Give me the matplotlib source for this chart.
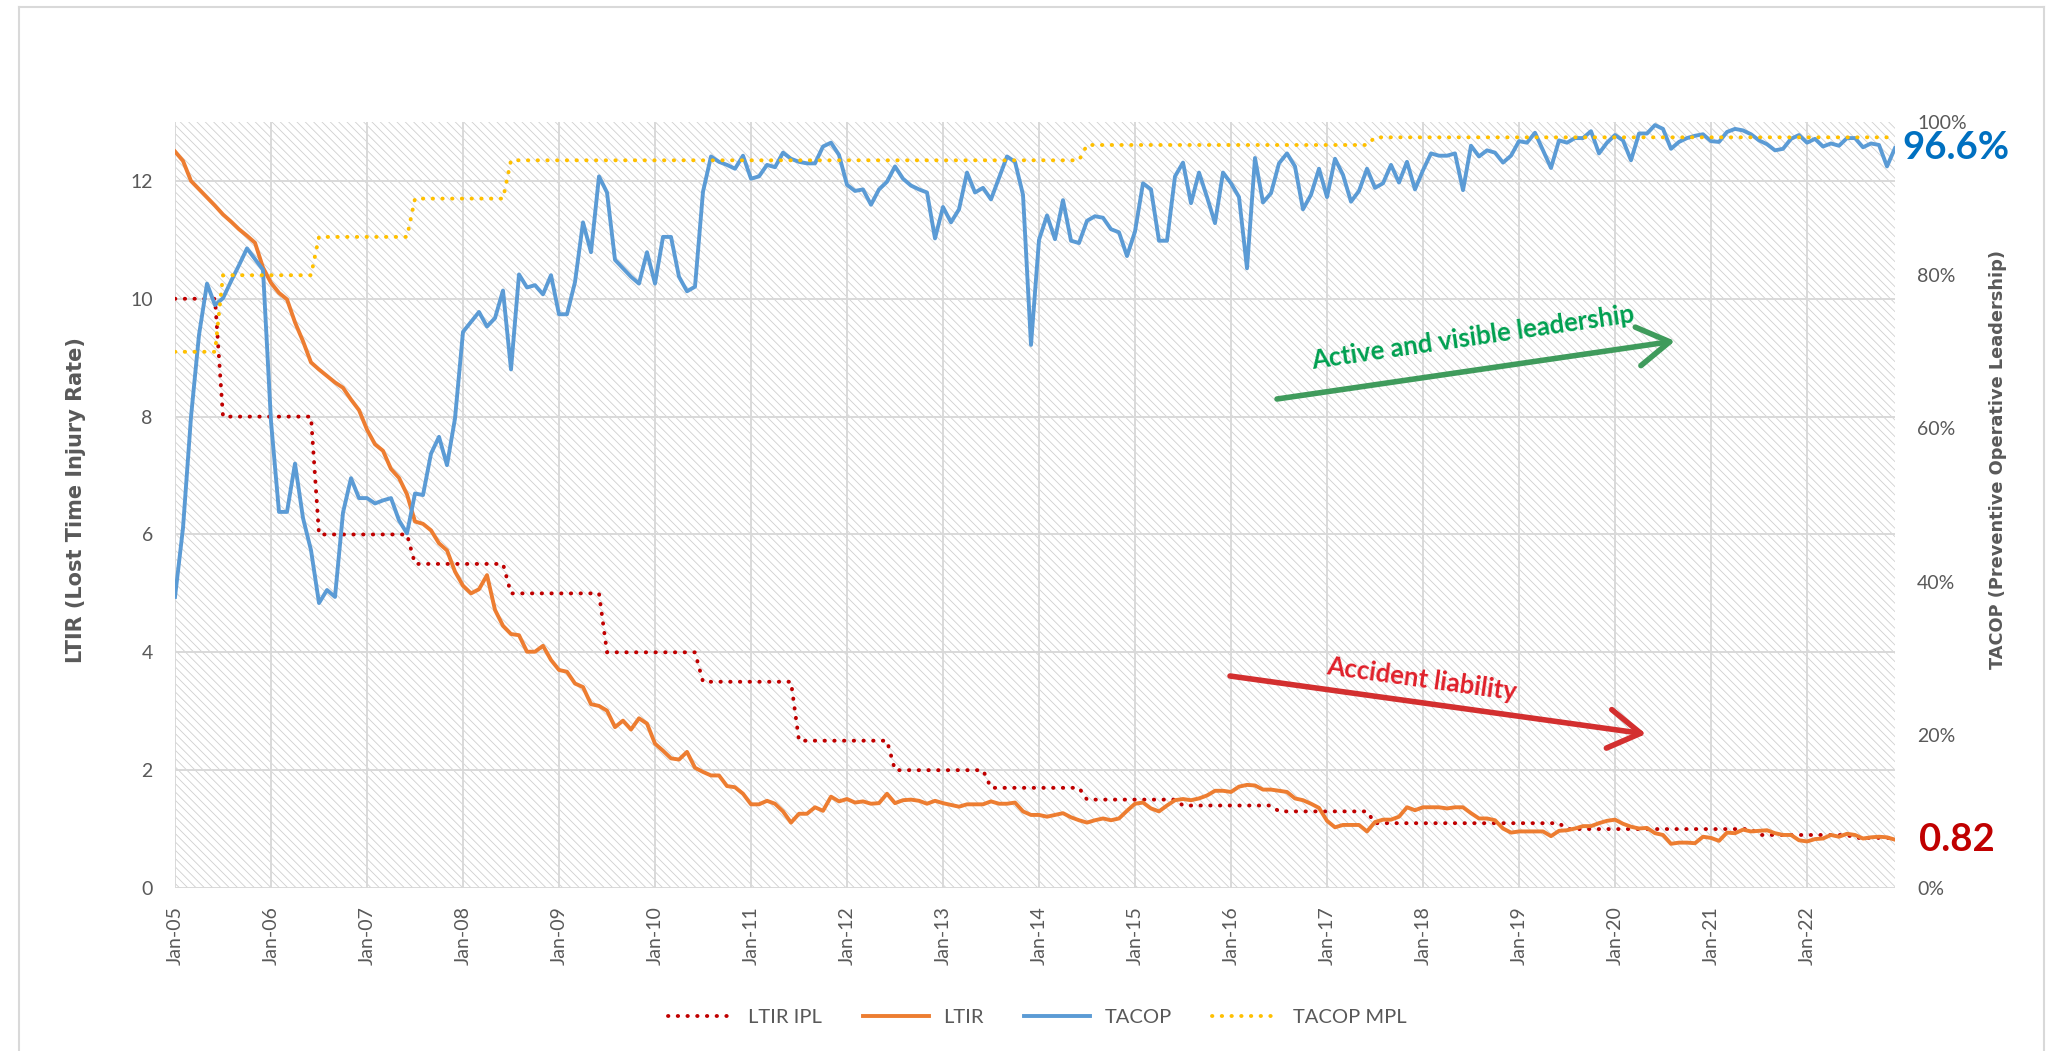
import numpy as np
import pandas as pd
import matplotlib
matplotlib.use("Agg")
import matplotlib.pyplot as plt
from matplotlib.patches import Rectangle, FancyArrowPatch
from matplotlib.lines import Line2D
from matplotlib.ticker import FuncFormatter

# ---------------- data (monthly, Jan-05 .. Dec-22) ----------------
months = pd.date_range("2005-01-01", "2022-12-01", freq="MS")

ltir_ipl = [
    10, 10, 10, 10, 10, 10, 8, 8, 8, 8, 8, 8,                       # 2005
    8, 8, 8, 8, 8, 8, 6, 6, 6, 6, 6, 6,                             # 2006
    6, 6, 6, 6, 6, 6, 5.5, 5.5, 5.5, 5.5, 5.5, 5.5,                 # 2007
    5.5, 5.5, 5.5, 5.5, 5.5, 5.5, 5, 5, 5, 5, 5, 5,                 # 2008
    5, 5, 5, 5, 5, 5, 4, 4, 4, 4, 4, 4,                             # 2009
    4, 4, 4, 4, 4, 4, 3.5, 3.5, 3.5, 3.5, 3.5, 3.5,                 # 2010
    3.5, 3.5, 3.5, 3.5, 3.5, 3.5, 2.5, 2.5, 2.5, 2.5, 2.5, 2.5,     # 2011
    2.5, 2.5, 2.5, 2.5, 2.5, 2.5, 2.0, 2.0, 2.0, 2.0, 2.0, 2.0,     # 2012
    2.0, 2.0, 2.0, 2.0, 2.0, 2.0, 1.7, 1.7, 1.7, 1.7, 1.7, 1.7,     # 2013
    1.7, 1.7, 1.7, 1.7, 1.7, 1.7, 1.5, 1.5, 1.5, 1.5, 1.5, 1.5,     # 2014
    1.5, 1.5, 1.5, 1.5, 1.5, 1.5, 1.4, 1.4, 1.4, 1.4, 1.4, 1.4,     # 2015
    1.4, 1.4, 1.4, 1.4, 1.4, 1.4, 1.3, 1.3, 1.3, 1.3, 1.3, 1.3,     # 2016
    1.3, 1.3, 1.3, 1.3, 1.3, 1.3, 1.1, 1.1, 1.1, 1.1, 1.1, 1.1,     # 2017
    1.1, 1.1, 1.1, 1.1, 1.1, 1.1, 1.1, 1.1, 1.1, 1.1, 1.1, 1.1,     # 2018
    1.1, 1.1, 1.1, 1.1, 1.1, 1.1, 1.0, 1.0, 1.0, 1.0, 1.0, 1.0,     # 2019
    1.0, 1.0, 1.0, 1.0, 1.0, 1.0, 1.0, 1.0, 1.0, 1.0, 1.0, 1.0,     # 2020
    1.0, 1.0, 1.0, 1.0, 1.0, 1.0, 0.9, 0.9, 0.9, 0.9, 0.9, 0.9,     # 2021
    0.9, 0.9, 0.9, 0.9, 0.9, 0.9, 0.85, 0.85, 0.85, 0.85, 0.85, 0.85,  # 2022
]

ltir = [
    12.50, 12.34, 12.00, 11.86, 11.72, 11.58, 11.43, 11.31, 11.18, 11.07, 10.95, 10.53,
    10.27, 10.10, 9.99, 9.60, 9.28, 8.92, 8.80, 8.69, 8.58, 8.49, 8.29, 8.11,
    7.78, 7.53, 7.42, 7.11, 6.96, 6.68, 6.22, 6.18, 6.07, 5.85, 5.73, 5.37,
    5.13, 5.00, 5.07, 5.31, 4.72, 4.45, 4.31, 4.29, 4.01, 4.01, 4.11, 3.87,
    3.70, 3.67, 3.47, 3.41, 3.12, 3.09, 3.01, 2.73, 2.84, 2.69, 2.88, 2.79,
    2.45, 2.33, 2.20, 2.18, 2.31, 2.04, 1.97, 1.91, 1.91, 1.73, 1.71, 1.60,
    1.42, 1.42, 1.48, 1.43, 1.30, 1.11, 1.26, 1.26, 1.37, 1.31, 1.55, 1.47,
    1.51, 1.45, 1.47, 1.43, 1.44, 1.60, 1.44, 1.49, 1.50, 1.48, 1.43, 1.48,
    1.44, 1.41, 1.38, 1.42, 1.42, 1.42, 1.47, 1.43, 1.43, 1.45, 1.30, 1.24,
    1.24, 1.21, 1.24, 1.27, 1.20, 1.15, 1.11, 1.15, 1.18, 1.15, 1.18, 1.31,
    1.43, 1.45, 1.35, 1.30, 1.40, 1.49, 1.51, 1.49, 1.52, 1.57, 1.65, 1.65,
    1.63, 1.72, 1.75, 1.74, 1.67, 1.67, 1.65, 1.63, 1.52, 1.49, 1.43, 1.36,
    1.14, 1.03, 1.07, 1.07, 1.07, 0.96, 1.12, 1.16, 1.16, 1.21, 1.37, 1.32,
    1.37, 1.37, 1.37, 1.35, 1.37, 1.37, 1.27, 1.18, 1.18, 1.15, 1.01, 0.94,
    0.96, 0.96, 0.96, 0.96, 0.88, 0.97, 0.98, 1.01, 1.05, 1.05, 1.10, 1.14,
    1.16, 1.09, 1.04, 1.01, 1.02, 0.93, 0.90, 0.75, 0.77, 0.77, 0.76, 0.87,
    0.85, 0.80, 0.94, 0.93, 0.99, 0.96, 0.97, 0.98, 0.93, 0.90, 0.90, 0.81,
    0.79, 0.83, 0.84, 0.90, 0.87, 0.92, 0.90, 0.84, 0.86, 0.87, 0.86, 0.82,
]

tacop = [
    38.0, 47.0, 61.5, 72.2, 78.9, 76.1, 77.0, 79.2, 81.3, 83.5, 82.1, 80.7,
    60.9, 49.1, 49.1, 55.4, 48.3, 44.1, 37.2, 38.9, 38.0, 49.0, 53.5, 50.9,
    50.9, 50.2, 50.6, 50.9, 48.0, 46.3, 51.5, 51.3, 56.7, 58.9, 55.2, 61.3,
    72.6, 73.9, 75.2, 73.3, 74.4, 78.0, 67.7, 80.1, 78.4, 78.7, 77.5, 80.0,
    74.9, 74.9, 79.1, 86.9, 83.0, 92.9, 90.8, 82.0, 80.9, 79.8, 78.9, 83.0,
    78.9, 85.0, 85.0, 79.8, 77.9, 78.5, 90.9, 95.5, 94.8, 94.4, 93.9, 95.6,
    92.6, 92.9, 94.4, 94.1, 96.0, 95.2, 94.8, 94.6, 94.6, 96.8, 97.3, 95.7,
    91.8, 91.0, 91.2, 89.2, 91.2, 92.2, 94.2, 92.6, 91.7, 91.2, 90.8, 84.8,
    88.9, 86.9, 88.6, 93.4, 90.8, 91.4, 89.9, 92.7, 95.5, 94.8, 90.5, 70.9,
    84.6, 87.8, 84.7, 89.8, 84.5, 84.2, 87.1, 87.7, 87.5, 86.0, 85.6, 82.5,
    85.7, 92.0, 91.2, 84.5, 84.5, 92.9, 94.7, 89.4, 93.4, 90.2, 86.8, 93.4,
    92.0, 90.2, 80.9, 95.3, 89.5, 90.7, 94.6, 95.9, 94.2, 88.6, 90.5, 93.9,
    90.2, 95.2, 93.1, 89.6, 91.0, 93.9, 91.4, 92.0, 94.4, 92.1, 94.8, 91.2,
    93.7, 95.9, 95.6, 95.6, 95.9, 91.1, 96.9, 95.5, 96.3, 96.0, 94.7, 95.6,
    97.5, 97.3, 98.6, 96.3, 94.0, 97.6, 97.3, 97.9, 97.9, 98.8, 95.9, 97.3,
    98.3, 97.6, 95.0, 98.5, 98.5, 99.6, 99.1, 96.5, 97.4, 97.9, 98.2, 98.4,
    97.5, 97.4, 98.7, 99.1, 98.9, 98.4, 97.6, 97.1, 96.3, 96.5, 97.8, 98.3,
    97.3, 97.8, 96.8, 97.2, 96.9, 97.9, 97.9, 96.7, 97.2, 97.0, 94.2, 96.6,
]

tacop_mpl = [
    70, 70, 70, 70, 70, 70, 80, 80, 80, 80, 80, 80,     # 2005
    80, 80, 80, 80, 80, 80, 85, 85, 85, 85, 85, 85,     # 2006
    85, 85, 85, 85, 85, 85, 90, 90, 90, 90, 90, 90,     # 2007
    90, 90, 90, 90, 90, 90, 95, 95, 95, 95, 95, 95,     # 2008
    95, 95, 95, 95, 95, 95, 95, 95, 95, 95, 95, 95,     # 2009
    95, 95, 95, 95, 95, 95, 95, 95, 95, 95, 95, 95,     # 2010
    95, 95, 95, 95, 95, 95, 95, 95, 95, 95, 95, 95,     # 2011
    95, 95, 95, 95, 95, 95, 95, 95, 95, 95, 95, 95,     # 2012
    95, 95, 95, 95, 95, 95, 95, 95, 95, 95, 95, 95,     # 2013
    95, 95, 95, 95, 95, 95, 97, 97, 97, 97, 97, 97,     # 2014
    97, 97, 97, 97, 97, 97, 97, 97, 97, 97, 97, 97,     # 2015
    97, 97, 97, 97, 97, 97, 97, 97, 97, 97, 97, 97,     # 2016
    97, 97, 97, 97, 97, 97, 98, 98, 98, 98, 98, 98,     # 2017
    98, 98, 98, 98, 98, 98, 98, 98, 98, 98, 98, 98,     # 2018
    98, 98, 98, 98, 98, 98, 98, 98, 98, 98, 98, 98,     # 2019
    98, 98, 98, 98, 98, 98, 98, 98, 98, 98, 98, 98,     # 2020
    98, 98, 98, 98, 98, 98, 98, 98, 98, 98, 98, 98,     # 2021
    98, 98, 98, 98, 98, 98, 98, 98, 98, 98, 98, 98,     # 2022
]

series_names = ["LTIR IPL", "LTIR", "TACOP", "TACOP MPL"]
left_ticks = [0, 2, 4, 6, 8, 10, 12]
right_ticks = [0, 20, 40, 60, 80, 100]

# ---------------- styling ----------------
W, H = 2060, 1051
plt.rcParams["font.family"] = ["Lato", "DejaVu Sans"]
plt.rcParams["hatch.linewidth"] = 0.6

C_IPL = "#C00000"
C_LTIR = "#ED7D31"
C_TACOP = "#5B9BD5"
C_MPL = "#FFC000"
C_TXT = "#595959"
C_GRID = "#D9D9D9"

fig = plt.figure(figsize=(W / 100, H / 100), dpi=100)
fig.patch.set_facecolor("white")

def fx(x):
    return x / W

def fy(y):
    return 1 - y / H

L, R, T, B = 175, 1895, 122, 888
ax = fig.add_axes([fx(L), fy(B), (R - L) / W, (B - T) / H])
ax2 = ax.twinx()

x = np.arange(len(months))

# hatched plot area
ax.add_patch(Rectangle((0, 0), 1, 1, transform=ax.transAxes, facecolor="white",
                       edgecolor="#D0D0D0", hatch="\\\\\\\\", lw=0, zorder=0.2))
ax.set_axisbelow("line")
ax.grid(True, color=C_GRID, lw=1.4, zorder=0.5)

lw = 2.8
l_ipl, = ax.plot(x, ltir_ipl, color=C_IPL, lw=lw, linestyle=(0, (0.1, 2.4)),
                 dash_capstyle="round", zorder=3, label=series_names[0])
l_ltir, = ax.plot(x, ltir, color=C_LTIR, lw=lw, zorder=3.5, label=series_names[1],
                  solid_joinstyle="round")
l_tac, = ax2.plot(x, tacop, color=C_TACOP, lw=lw, zorder=3, label=series_names[2],
                  solid_joinstyle="round")
l_mpl, = ax2.plot(x, tacop_mpl, color=C_MPL, lw=lw, linestyle=(0, (0.1, 2.4)),
                  dash_capstyle="round", zorder=3.5, label=series_names[3])

ax.set_xlim(0, len(months) - 1)
ax.set_ylim(0, 13)
ax2.set_ylim(0, 100)

jan_idx = [i for i, d in enumerate(months) if d.month == 1]
ax.set_xticks(jan_idx)
ax.set_xticklabels([months[i].strftime("%b-%y") for i in jan_idx], rotation=90,
                   fontsize=14, color=C_TXT)
ax.set_yticks(left_ticks)
ax.set_yticklabels([str(t) for t in left_ticks], fontsize=14, color=C_TXT)
ax2.set_yticks(right_ticks)
ax2.yaxis.set_major_formatter(FuncFormatter(lambda v, p: f"{v:.0f}%"))
ax2.tick_params(axis="y", labelsize=14, labelcolor=C_TXT, length=0, pad=16)
ax.tick_params(axis="y", length=0, pad=16)
ax.tick_params(axis="x", length=0, pad=13)
for a in (ax, ax2):
    for s in a.spines.values():
        s.set_visible(False)
ax2.grid(False)

# axis titles
fig.text(fx(76), fy(500), "LTIR (Lost Time Injury Rate)", rotation=90, ha="center",
         va="center", fontsize=15, fontweight="bold", color=C_TXT,
         family="DejaVu Sans")
fig.text(fx(1998), fy(460), "TACOP (Preventive Operative Leadership)", rotation=90,
         ha="center", va="center", fontsize=12.8, fontweight="bold", color=C_TXT,
         family="DejaVu Sans")

# end-value labels
ax2.annotate(f"{tacop[-1]:.1f}%", xy=(x[-1], tacop[-1]), xytext=(5, 0),
             textcoords="offset points", ha="left", va="center", fontsize=27.5,
             fontweight="bold", color="#0070C0", annotation_clip=False)
ax.annotate(f"{ltir[-1]:.2f}", xy=(x[-1], ltir[-1]), xytext=(17, 0),
            textcoords="offset points", ha="left", va="center", fontsize=27.5,
            fontweight="bold", color="#C00000", annotation_clip=False)

# trend arrows
def arrow(p0, p1, color):
    a = FancyArrowPatch((fx(p0[0]), fy(p0[1])), (fx(p1[0]), fy(p1[1])),
                        transform=fig.transFigure,
                        arrowstyle="->,head_length=23,head_width=14",
                        mutation_scale=1, lw=4, color=color,
                        shrinkA=0, shrinkB=0, zorder=6)
    fig.add_artist(a)

arrow((1277, 399), (1675, 341), "#3F9B5C")
arrow((1230, 676), (1646, 734), "#D32F2F")
fig.text(fx(1473), fy(338), "Active and visible leadership", rotation=8.3,
         rotation_mode="anchor", ha="center", va="center", fontsize=18.5,
         fontweight="bold", color="#00A050")
fig.text(fx(1422), fy(679), "Accident liability", rotation=-7.9,
         rotation_mode="anchor", ha="center", va="center", fontsize=18.5,
         fontweight="bold", color="#E0202A")

# legend
fig.legend(handles=[l_ipl, l_ltir, l_tac, l_mpl], loc="center",
           bbox_to_anchor=(fx(1037), fy(1017)), ncol=4, frameon=False,
           fontsize=14.5, handlelength=3.3, handletextpad=0.7, columnspacing=2.0,
           labelcolor=C_TXT)

# outer chart border
for (xa, ya, xb, yb) in [(19, 7, 2044, 7), (19, 7, 19, H + 5), (2044, 7, 2044, H + 5)]:
    fig.add_artist(Line2D([fx(xa), fx(xb)], [fy(ya), fy(yb)], transform=fig.transFigure,
                          color=C_GRID, lw=1.5))

fig.savefig("out.png", dpi=100, facecolor="white")
